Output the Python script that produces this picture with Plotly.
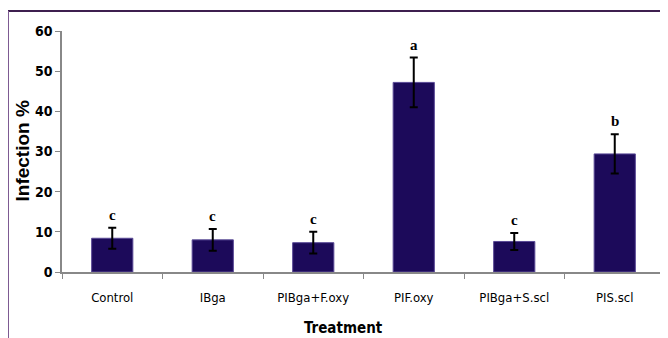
import plotly.graph_objects as go

categories = ["Control", "IBga", "PIBga+F.oxy", "PIF.oxy", "PIBga+S.scl", "PIS.scl"]
infection = [8.4, 8.0, 7.3, 47.2, 7.6, 29.4]
errors = [2.6, 2.7, 2.7, 6.2, 2.1, 4.9]
letters = ["c", "c", "c", "a", "c", "b"]
y_ticks = [0, 10, 20, 30, 40, 50, 60]

BAR = "#1c0a5a"
cond = "Liberation Sans Narrow, DejaVu Sans Condensed, Arial Narrow, sans-serif"

# page has an 8px body margin; figure sized to fit the window
W, H = 660, 330
ML, MR, MT, MB = 54, 3, 23, 66
PW, PH = W - ML - MR, H - MT - MB

def px(xp):
    return (xp - ML) / PW

def py(yp):
    return (H - MB - yp) / PH

fig = go.Figure()
fig.add_trace(go.Bar(
    x=categories, y=infection,
    marker=dict(color=BAR, line=dict(color="#5a4a96", width=1)),
    error_y=dict(type="data", array=errors, visible=True, color="black", thickness=2, width=4),
    width=0.41,
))

for c, v, e, l in zip(categories, infection, errors, letters):
    fig.add_annotation(x=c, y=v + e, text="<b>%s</b>" % l, showarrow=False,
                       yanchor="bottom", yshift=3,
                       font=dict(family="Liberation Serif, Times New Roman, serif", size=15, color="black"))

fig.add_annotation(xref="paper", yref="paper", x=px(14), y=0.5, text="<b>Infection %</b>",
                   textangle=-90, showarrow=False, xanchor="center", yanchor="middle",
                   font=dict(family="Liberation Sans, Arial, sans-serif", size=19, color="black"))
fig.add_annotation(xref="paper", yref="paper", x=px(335), y=py(320), text="<b>Treatment</b>",
                   showarrow=False, xanchor="center", yanchor="middle",
                   font=dict(family=cond, size=15, color="black"))

# frame lines
fig.add_shape(type="line", xref="paper", yref="paper", x0=px(0), x1=px(W), y0=py(3), y1=py(3),
              line=dict(color="#3d1f4f", width=2))
fig.add_shape(type="line", xref="paper", yref="paper", x0=px(0), x1=px(0), y0=py(3), y1=py(H),
              line=dict(color="#7d5a92", width=2))

fig.update_layout(
    width=W, height=H,
    margin=dict(l=ML, r=MR, t=MT, b=MB),
    plot_bgcolor="white", paper_bgcolor="white",
    showlegend=False,
    bargap=0.59,
    xaxis=dict(showline=True, linecolor="#888888", linewidth=1.5, ticks="outside",
               tickson="boundaries", ticklen=5, tickcolor="#888888", ticklabelstandoff=13,
               tickfont=dict(family=cond, size=13, color="black"), showgrid=False),
    yaxis=dict(range=[0, 60], tickvals=y_ticks, showline=True, linecolor="#888888", linewidth=1.5,
               ticks="outside", ticklen=5, tickcolor="#888888", showgrid=False, zeroline=False,
               tickfont=dict(family=cond, size=14, color="black", weight="bold")),
)

fig.write_html("out.html")
